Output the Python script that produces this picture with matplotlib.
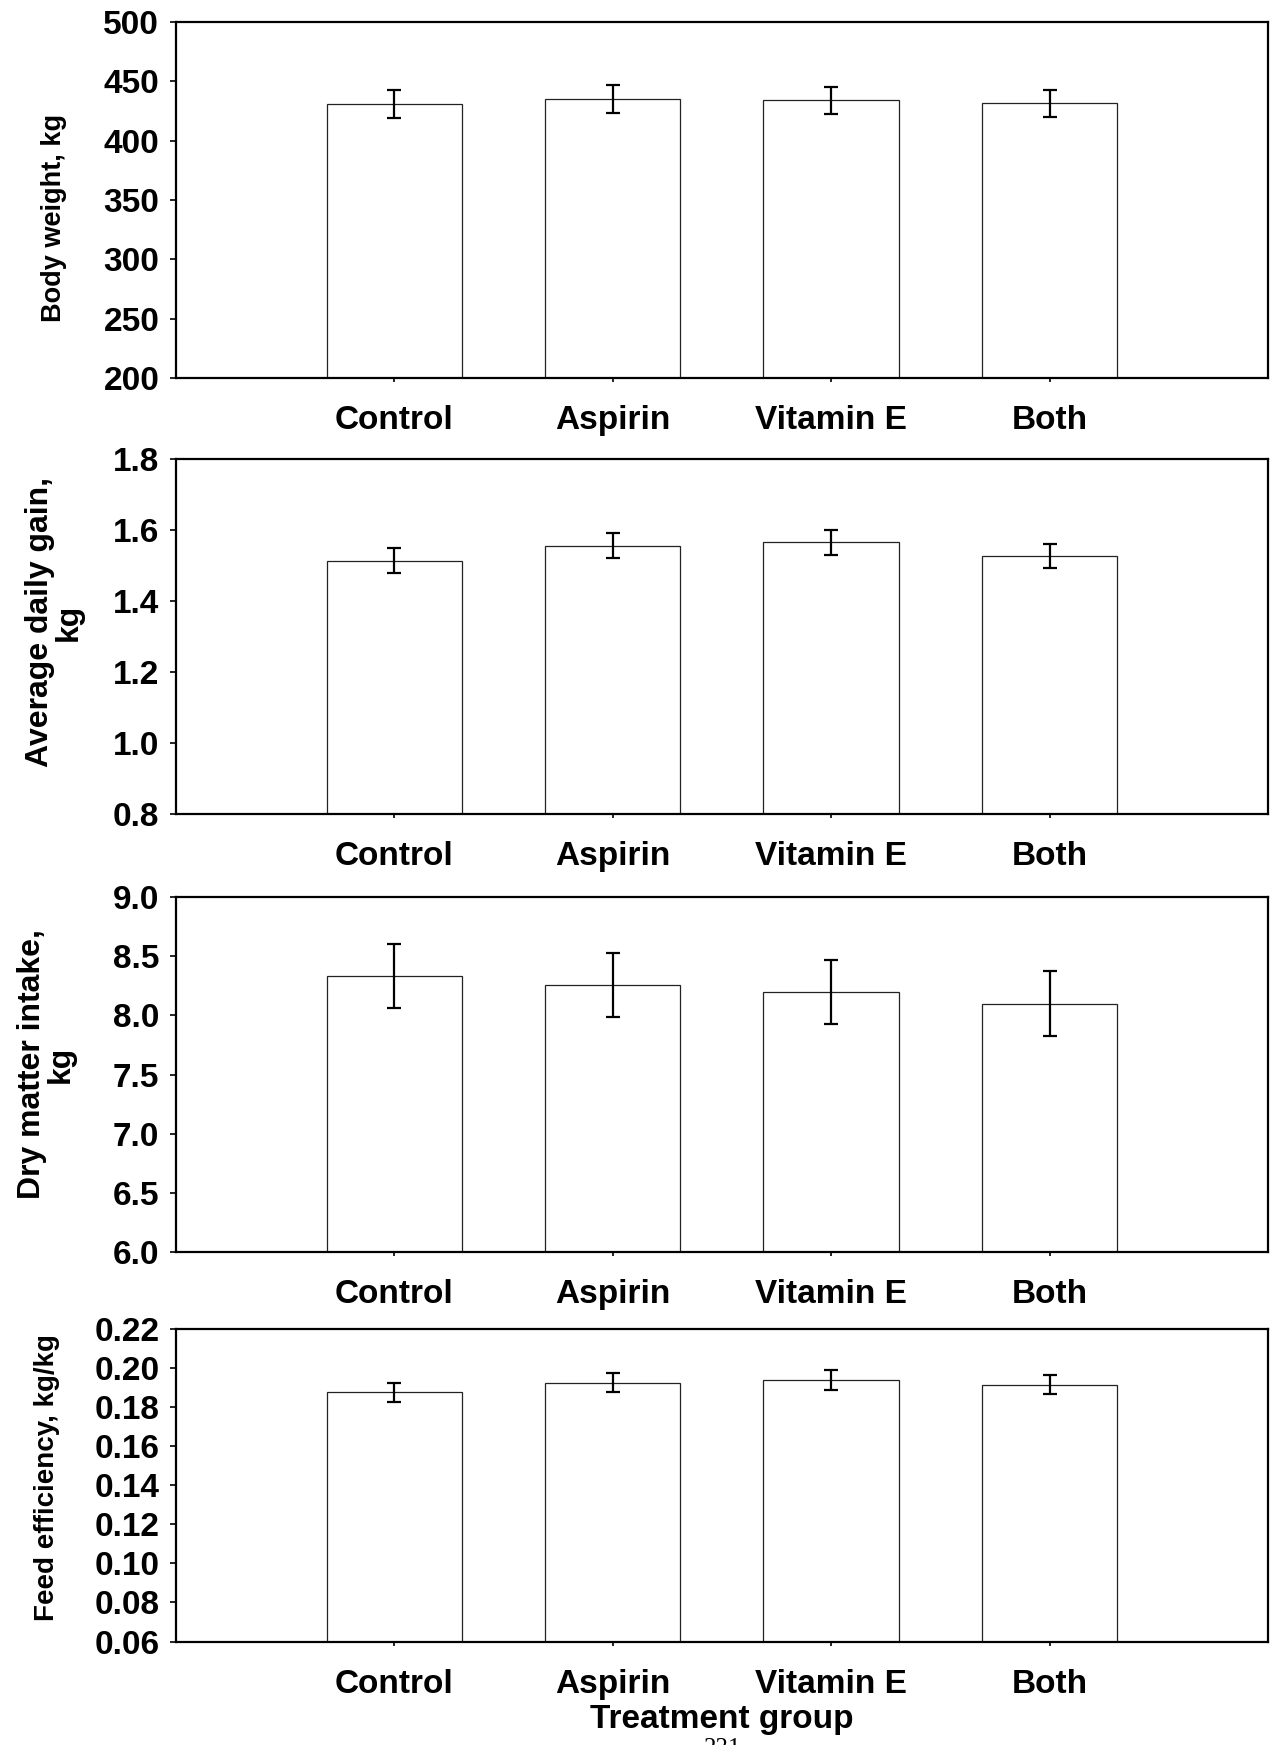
import numpy as np
import matplotlib
matplotlib.use('Agg')
import matplotlib.pyplot as plt
from matplotlib.ticker import FormatStrFormatter

# --- Datos ---

groups = ['Control', 'Aspirin', 'Vitamin E', 'Both']

bw_mean = [431, 435, 434, 431.5]
bw_se = [11.5, 11.5, 11.5, 11.5]

adg_mean = [1.514, 1.556, 1.566, 1.527]
adg_se = [0.036, 0.035, 0.035, 0.035]

dmi_mean = [8.33, 8.26, 8.20, 8.10]
dmi_se = [0.27, 0.27, 0.27, 0.275]

fe_mean = [0.1877, 0.1925, 0.1940, 0.1915]
fe_se = [0.0049, 0.0050, 0.0050, 0.0049]

# --- Figura ---

plt.rcParams['font.family'] = ['Liberation Sans', 'DejaVu Sans']
plt.rcParams['font.weight'] = 'bold'

fig = plt.figure(figsize=(12.74, 17.45), dpi=100)

# (bottom, height) de cada panel en fracciones de figura, más formato del eje y
left, width = 0.1381, 0.8572
panels = [
    (0.7834, 0.2040, bw_mean, bw_se, (200, 500), np.arange(200, 501, 50), '%d',
     'Body weight, kg', 19.5, -0.112, 0.45),
    (0.5335, 0.2034, adg_mean, adg_se, (0.8, 1.8), np.arange(0.8, 1.81, 0.2), '%.1f',
     'Average daily gain,\nkg', 23, -0.111, 0.54),
    (0.2825, 0.2034, dmi_mean, dmi_se, (6.0, 9.0), np.arange(6.0, 9.01, 0.5), '%.1f',
     'Dry matter intake,\nkg', 23, -0.119, 0.53),
    (0.0593, 0.1791, fe_mean, fe_se, (0.06, 0.22), np.arange(0.06, 0.221, 0.02), '%.2f',
     'Feed efficiency, kg/kg', 20, -0.118, 0.525),
]

x = np.arange(len(groups))

for bottom, height, mean, se, ylim, yticks, fmt, ylabel, lsize, lx, ly in panels:
    ax = fig.add_axes([left, bottom, width, height])
    ymin = ylim[0]
    ax.bar(x, np.array(mean) - ymin, bottom=ymin, width=0.62, color='white',
           edgecolor='#222222', linewidth=0.9, zorder=2)
    ax.errorbar(x, mean, yerr=se, fmt='none', ecolor='black', elinewidth=1.6,
                capsize=5, capthick=1.6, zorder=3)

    ax.set_xlim(-1, 4)
    ax.set_ylim(*ylim)
    ax.set_yticks(yticks)
    ax.yaxis.set_major_formatter(FormatStrFormatter(fmt))
    ax.set_xticks(x)
    ax.set_xticklabels(groups)

    ax.tick_params(axis='y', direction='out', length=4, width=1.2, pad=8, labelsize=24)
    ax.tick_params(axis='x', direction='out', length=3, width=1.2, pad=16.5, labelsize=24)
    for s in ax.spines.values():
        s.set_linewidth(1.6)

    ax.set_ylabel(ylabel, fontsize=lsize, fontweight='bold', va='center', linespacing=0.95)
    ax.yaxis.set_label_coords(lx, ly)

# Etiqueta del eje x (solo panel inferior)
ax.set_xlabel('Treatment group', fontsize=24, fontweight='bold', va='center')
ax.xaxis.set_label_coords(0.5, -0.251)

# Número de página
fig.text(0.567, 0.004, '231', ha='center', va='top', fontsize=18,
         family='Liberation Serif', fontweight='normal')

plt.savefig('out.png', dpi=100)
